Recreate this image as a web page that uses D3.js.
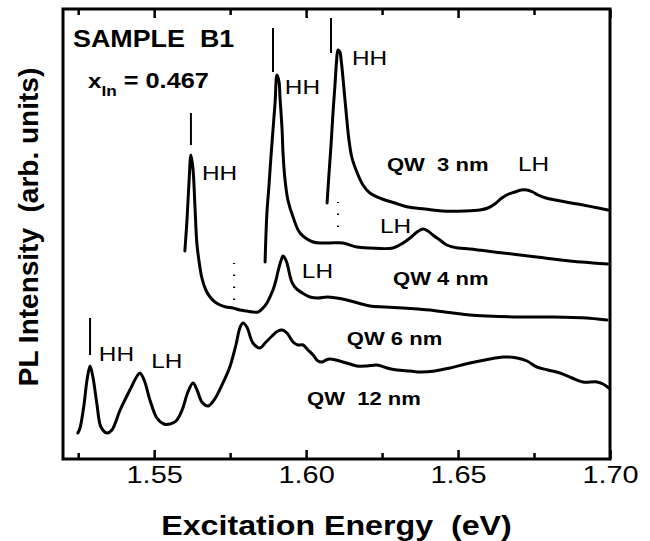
<!DOCTYPE html>
<html><head><meta charset="utf-8">
<script src="https://cdn.jsdelivr.net/npm/d3@7"></script>
<style>body{margin:0;background:#fff}svg{display:block}text{font-family:"Liberation Sans",Arial,sans-serif;fill:#000}</style>
</head><body><svg id="c" width="650" height="541"></svg>
<script>
// Tick values (eV)
const majorTicks = [1.55, 1.60, 1.65, 1.70];
const minorTicks = [1.525, 1.575, 1.625, 1.675];
// Series: [energy (eV), PL intensity (arb. units)]
const qw3 = [[1.6069,256],[1.6075,284],[1.6082,314],[1.6088,344],[1.6095,374],[1.6100,397],[1.6105,409],[1.6111,407],[1.6116,397],[1.6121,382],[1.6131,349],[1.6141,319],[1.6151,301],[1.6167,287],[1.6187,274],[1.6210,266],[1.6250,260],[1.6292,256],[1.6335,252],[1.6391,250],[1.6447,248],[1.6523,248],[1.6572,249],[1.6598,251],[1.6621,255],[1.6644,261],[1.6667,265],[1.6687,267],[1.6707,269],[1.6727,269],[1.6746,267],[1.6763,264],[1.6789,261],[1.6819,259],[1.6894,255],[1.6993,249]];
const qw4 = [[1.5865,197],[1.5871,246],[1.5878,274],[1.5884,301],[1.5891,329],[1.5898,357],[1.5904,384],[1.5911,377],[1.5914,362],[1.5921,329],[1.5924,306],[1.5930,281],[1.5940,259],[1.5957,242],[1.5980,226],[1.6023,217],[1.6052,216],[1.6078,216],[1.6121,216],[1.6167,212],[1.6210,211],[1.6286,211],[1.6319,216],[1.6342,221],[1.6365,227],[1.6385,230],[1.6401,228],[1.6417,224],[1.6440,219],[1.6463,214],[1.6500,211],[1.6539,210],[1.6648,206],[1.6759,202],[1.6868,198],[1.6993,195]];
const qw6 = [[1.5601,208],[1.5608,239],[1.5615,279],[1.5621,304],[1.5628,289],[1.5634,254],[1.5641,214],[1.5651,191],[1.5657,181],[1.5670,169],[1.5684,162],[1.5700,157],[1.5717,154],[1.5736,152],[1.5759,151],[1.5782,149],[1.5805,148],[1.5825,147],[1.5842,147],[1.5858,151],[1.5871,156],[1.5881,162],[1.5891,169],[1.5901,179],[1.5907,187],[1.5917,198],[1.5924,203],[1.5930,201],[1.5937,196],[1.5947,183],[1.5953,177],[1.5963,172],[1.5973,169],[1.5993,165],[1.6013,162],[1.6039,161],[1.6069,162],[1.6101,161],[1.6134,159],[1.6171,156],[1.6210,153],[1.6259,152],[1.6319,151],[1.6368,150],[1.6407,149],[1.6483,146],[1.6539,144],[1.6595,143],[1.6704,142],[1.6812,142],[1.6924,141],[1.6990,139]];
const qw12 = [[1.5249,26],[1.5256,31],[1.5269,54],[1.5279,79],[1.5289,93],[1.5299,81],[1.5312,54],[1.5325,32],[1.5345,26],[1.5361,29],[1.5388,49],[1.5420,69],[1.5444,83],[1.5453,86],[1.5467,79],[1.5486,59],[1.5509,41],[1.5532,35],[1.5552,35],[1.5572,38],[1.5592,49],[1.5611,67],[1.5628,76],[1.5641,69],[1.5657,57],[1.5677,53],[1.5697,59],[1.5723,74],[1.5749,92],[1.5769,114],[1.5782,131],[1.5792,136],[1.5805,132],[1.5825,116],[1.5848,111],[1.5868,117],[1.5888,123],[1.5907,128],[1.5921,129],[1.5937,126],[1.5957,117],[1.5973,114],[1.5990,114],[1.6006,109],[1.6023,104],[1.6039,98],[1.6052,97],[1.6065,99],[1.6078,100],[1.6098,99],[1.6121,97],[1.6144,95],[1.6167,93],[1.6200,93],[1.6233,94],[1.6266,91],[1.6299,89],[1.6342,88],[1.6375,87],[1.6424,88],[1.6473,91],[1.6539,96],[1.6605,100],[1.6648,102],[1.6694,101],[1.6727,98],[1.6759,92],[1.6796,89],[1.6835,86],[1.6875,81],[1.6911,77],[1.6957,77],[1.6977,75],[1.6996,71]];
const seriesList = [qw3, qw4, qw6, qw12];
// Peak markers: energy, from, to (intensity)
const solidMarks = [[1.5289,104,141],[1.5621,314,346],[1.5891,387,431],[1.6082,406,441]];
const dottedMarks = [[1.5763,159,196],[1.6105,232,257]];
// Annotations: text, energy, intensity, bold
const annotations = [
  ["HH",1.5657,279,false],["HH",1.5930,365,false],["HH",1.6151,394,false],
  ["LH",1.6697,288,false],["QW  3 nm",1.6266,288,true],
  ["LH",1.6243,226,false],["QW 4 nm",1.6286,174,true],
  ["LH",1.5986,181,false],["QW 6 nm",1.6134,114,true],
  ["QW  12 nm",1.6003,54,true],["HH",1.5318,98,false],["LH",1.5490,91,false]
];

const svg = d3.select("#c");
const L=63, R=610, T=9, B=459;
const x = d3.scaleLinear().domain([1.52,1.70]).range([L,R]);
const y = d3.scaleLinear().domain([0,450]).range([B,T]);
const SX = 1.16;

// axes
const g = svg.append("g");
function axis(gen, ticks, size, labels, ty){
  const a = g.append("g").attr("transform",`translate(0,${ty})`)
    .call(gen(x).tickValues(ticks).tickSize(size).tickSizeOuter(0)
      .tickFormat(labels ? d3.format(".2f") : ""));
  a.select(".domain").remove();
  a.selectAll("line").attr("stroke","#000").attr("stroke-width",2.5);
  return a;
}
const ab = axis(d3.axisBottom, majorTicks, -9, true, B);
ab.selectAll("text").attr("y",24).attr("dy",0)
  .attr("font-size",24.5).attr("font-family","'Liberation Sans',Arial,sans-serif")
  .attr("fill","#000").attr("transform",`scale(1.18,1)`);
axis(d3.axisBottom, minorTicks, -6, false, B);
axis(d3.axisTop, majorTicks, -9, false, T);
axis(d3.axisTop, minorTicks, -6, false, T);

svg.append("rect").attr("x",L).attr("y",T).attr("width",R-L).attr("height",B-T)
  .attr("fill","none").attr("stroke","#000").attr("stroke-width",3);

// curves
const line = d3.line().x(d=>x(d[0])).y(d=>y(d[1])).curve(d3.curveCatmullRom.alpha(0.5));
svg.append("g").selectAll("path").data(seriesList).join("path")
  .attr("d",line).attr("fill","none").attr("stroke","#000")
  .attr("stroke-width",3).attr("stroke-linejoin","round").attr("stroke-linecap","round");

// markers
svg.append("g").selectAll("line").data(solidMarks).join("line")
  .attr("x1",d=>x(d[0])).attr("x2",d=>x(d[0])).attr("y1",d=>y(d[1])).attr("y2",d=>y(d[2]))
  .attr("stroke","#000").attr("stroke-width",2);
svg.append("g").selectAll("line").data(dottedMarks).join("line")
  .attr("x1",d=>x(d[0])).attr("x2",d=>x(d[0])).attr("y1",d=>y(d[1])).attr("y2",d=>y(d[2]))
  .attr("stroke","#000").attr("stroke-width",2).attr("stroke-dasharray","1.5,10.5");

// annotations
svg.append("g").selectAll("text").data(annotations).join("text")
  .attr("transform",d=>`translate(${x(d[1])},${y(d[2])}) scale(${SX},1)`)
  .attr("font-size",d=>d[3]?19:21).attr("font-weight",d=>d[3]?"bold":"normal")
  .style("white-space","pre").text(d=>d[0]);

// sample text
svg.append("text").attr("transform",`translate(73,47) scale(1.12,1)`)
  .attr("font-size",24).attr("font-weight","bold").style("white-space","pre").text("SAMPLE  B1");
const xi = svg.append("text").attr("transform",`translate(88,88) scale(1.15,1)`)
  .attr("font-weight","bold").style("white-space","pre");
xi.append("tspan").attr("font-size",21).text("x");
xi.append("tspan").attr("font-size",15).attr("dy",8).text("In");
xi.append("tspan").attr("font-size",22).attr("dy",-8).text(" = 0.467");

// axis titles
svg.append("text").attr("transform",`translate(${(L+R)/2},535) scale(1.15,1)`)
  .attr("text-anchor","middle").attr("font-size",28).attr("font-weight","bold")
  .style("white-space","pre").text("Excitation Energy  (eV)");
svg.append("text").attr("transform",`translate(38,227) rotate(-90)`)
  .attr("text-anchor","middle").attr("font-size",28).attr("font-weight","bold")
  .style("white-space","pre").text("PL Intensity  (arb. units)");
</script></body></html>
